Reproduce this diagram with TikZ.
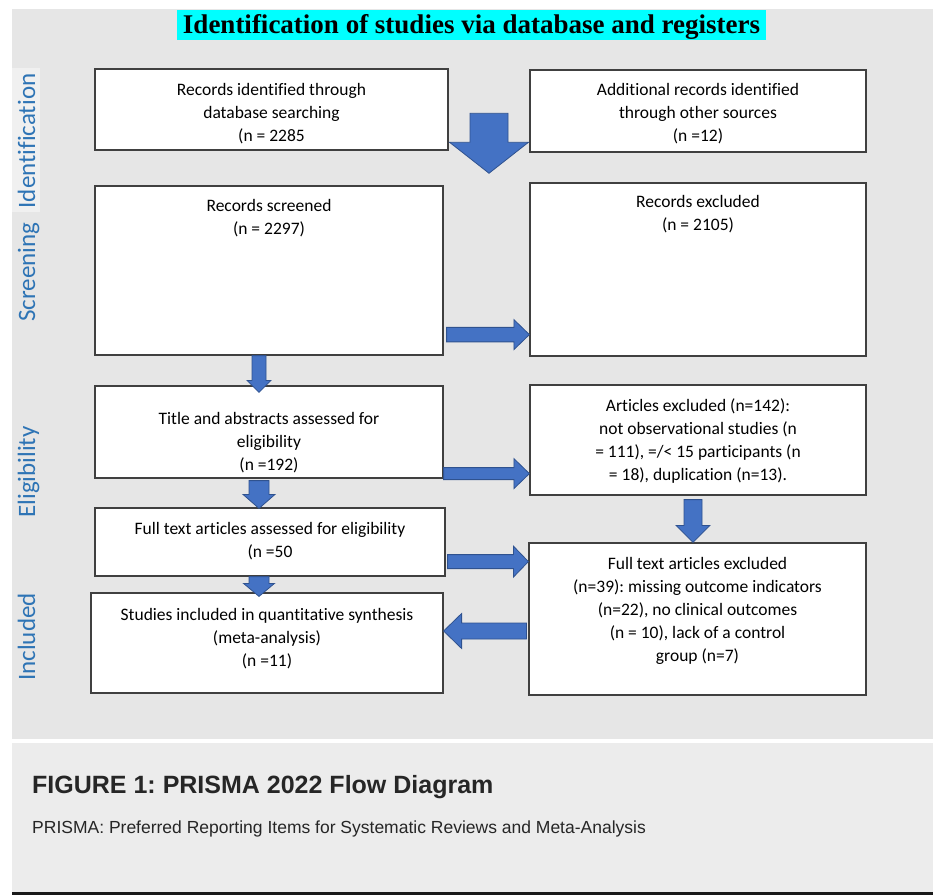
\documentclass[tikz,border=0pt]{standalone}
\usepackage{fontspec}
\setmainfont{Carlito}[Ligatures=NoCommon]
\newfontfamily\headfont{Liberation Serif}
\newfontfamily\capfont{Liberation Sans}
\usepackage{tikz}
\usetikzlibrary{calc}
\frenchspacing
\definecolor{panelgray}{HTML}{E6E6E6}
\definecolor{capgray}{HTML}{ECECEC}
\definecolor{labelgray}{HTML}{F0F0F0}
\definecolor{headcyan}{HTML}{00FFFF}
\definecolor{arrowblue}{HTML}{4472C4}
\definecolor{arrowedge}{HTML}{2F528F}
\definecolor{stageblue}{HTML}{2E74B5}
\definecolor{boxedge}{HTML}{404040}

\newcommand{\blockarrow}[5]{%
  \coordinate (hb) at ($(#2)!#5!(#1)$);
  \filldraw[fill=arrowblue, draw=arrowedge, line width=0.8pt]
    ($(#1)!#3!90:(#2)$) -- ($(hb)!#3!-90:(#1)$) -- ($(hb)!#4!-90:(#1)$) -- (#2)
    -- ($(hb)!#4!90:(#1)$) -- ($(hb)!#3!90:(#1)$) -- ($(#1)!#3!-90:(#2)$) -- cycle;
}

\begin{document}
\begin{tikzpicture}[x=1pt, y=-1pt]
\tikzstyle{every node}+=[inner sep=0pt]
\tikzstyle{box}=[draw=boxedge, line width=1.2pt, fill=white]
\tikzstyle{boxtxt}=[align=center, font=\fontsize{17.5}{23}\selectfont]
\tikzstyle{stage}=[rotate=90, anchor=base, text=stageblue, font=\fontsize{25}{30}\selectfont]
\useasboundingbox (0,0) rectangle (933,895);
\fill[white] (0,0) rectangle (933,895);
\fill[panelgray] (12,9) rectangle (933,739);
\fill[capgray] (12,743) rectangle (933,892);
\fill[black!90] (12,892) rectangle (933,895);
\fill[labelgray] (12,68) rectangle (40,212);

\node[fill=headcyan, minimum width=589, minimum height=30, text height=20, text depth=4, font={\headfont\bfseries\fontsize{27}{30}\selectfont}] (head) at (471.5,25) {Identification of studies via database and registers};

\node[stage] (lbid) at (35,141) {Identification};
\node[stage] (lbscr) at (35,272) {Screening};
\node[stage] (lbelig) at (35,472) {Eligibility};
\node[stage] (lbincl) at (35,637) {Included};

\node[box, minimum width=353, minimum height=81] (ident) at (271.5,109.5) {};
\node[box, minimum width=336, minimum height=82] (other) at (698,111) {};
\node[box, minimum width=348, minimum height=169] (scr) at (269,270.5) {};
\node[box, minimum width=336, minimum height=173] (excl) at (698,269.5) {};
\node[box, minimum width=348, minimum height=92] (tas) at (269,432) {};
\node[box, minimum width=336, minimum height=110] (artex) at (698,440) {};
\node[box, minimum width=350, minimum height=68] (fta) at (270,542) {};
\node[box, minimum width=337, minimum height=152] (ftex) at (697.5,619) {};
\node[box, minimum width=352, minimum height=100] (incl) at (267,643) {};

\node[boxtxt] (identtxt) at (271.5,114) {Records identified through\\database searching\\(n = 2285};
\node[boxtxt] (othertxt) at (698,114) {Additional records identified\\through other sources\\(n =12)};
\node[boxtxt] (scrtxt) at (269,218) {Records screened\\(n = 2297)};
\node[boxtxt] (excltxt) at (698,214.5) {Records excluded\\(n = 2105)};
\node[boxtxt] (tastxt) at (269,443) {Title and abstracts assessed for\\eligibility\\(n =192)};
\node[boxtxt] (artextxt) at (698,440.5) {Articles excluded (n=142):\\not observational studies (n\\= 111), =/< 15 participants (n\\= 18), duplication (n=13).};
\node[boxtxt] (ftatxt) at (270,541.5) {Full text articles assessed for eligibility\\(n =50};
\node[boxtxt] (ftextxt) at (697.5,611) {Full text articles excluded\\(n=39): missing outcome indicators\\(n=22), no clinical outcomes\\(n = 10), lack of a control\\group (n=7)};
\node[boxtxt] (incltxt) at (267,639) {Studies included in quantitative synthesis\\(meta-analysis)\\(n =11)};

\coordinate (bigtop) at ($(ident.east)!.5!(other.west)+(0,3)$);
\coordinate (bigtip) at ($(bigtop)+(0,60)$);
\blockarrow{bigtop}{bigtip}{19pt}{39.5pt}{31pt}
\coordinate (a1s) at ($(scr.south east)+(3,-21)$);
\coordinate (a1e) at (a1s -| excl.west);
\blockarrow{a1s}{a1e}{7.25pt}{15pt}{15.5pt}
\coordinate (a2s) at ($(scr.south)+(-10,0)$);
\coordinate (a2e) at ($(a2s |- tas.north)+(0,7)$);
\blockarrow{a2s}{a2e}{7pt}{12pt}{12pt}
\coordinate (a3s) at ($(tas.south)+(-10,2)$);
\coordinate (a3e) at ($(a3s |- fta.north)+(0,1)$);
\blockarrow{a3s}{a3e}{10pt}{16pt}{14pt}
\coordinate (a4s) at (a3s |- fta.south);
\coordinate (a4e) at ($(a4s |- incl.north)+(0,4)$);
\blockarrow{a4s}{a4e}{10pt}{15.5pt}{13pt}
\coordinate (a5s) at ($(tas.south east)+(0,-5)$);
\coordinate (a5e) at (a5s -| artex.west);
\blockarrow{a5s}{a5e}{6pt}{15pt}{15.5pt}
\coordinate (a6s) at ($(artex.south)+(-5,4)$);
\coordinate (a6e) at (a6s |- ftex.north);
\blockarrow{a6s}{a6e}{9pt}{17pt}{17pt}
\coordinate (a7s) at ($(fta.south east)+(2,-15)$);
\coordinate (a7e) at (a7s -| ftex.west);
\blockarrow{a7s}{a7e}{7pt}{15.5pt}{15pt}
\coordinate (a8s) at ($(ftex.west)+(-2,12)$);
\coordinate (a8e) at (a8s -| incl.east);
\blockarrow{a8s}{a8e}{8pt}{17.5pt}{18pt}

\node[anchor=base west, text=black!85, font={\capfont\bfseries\fontsize{25}{30}\selectfont}] (figcap) at (32,793) {FIGURE 1: PRISMA 2022 Flow Diagram};
\node[anchor=base west, text=black!85, font={\capfont\fontsize{17.5}{20}\selectfont}] (capnote) at (32,833) {PRISMA: Preferred Reporting Items for Systematic Reviews and Meta-Analysis};
\end{tikzpicture}
\end{document}
